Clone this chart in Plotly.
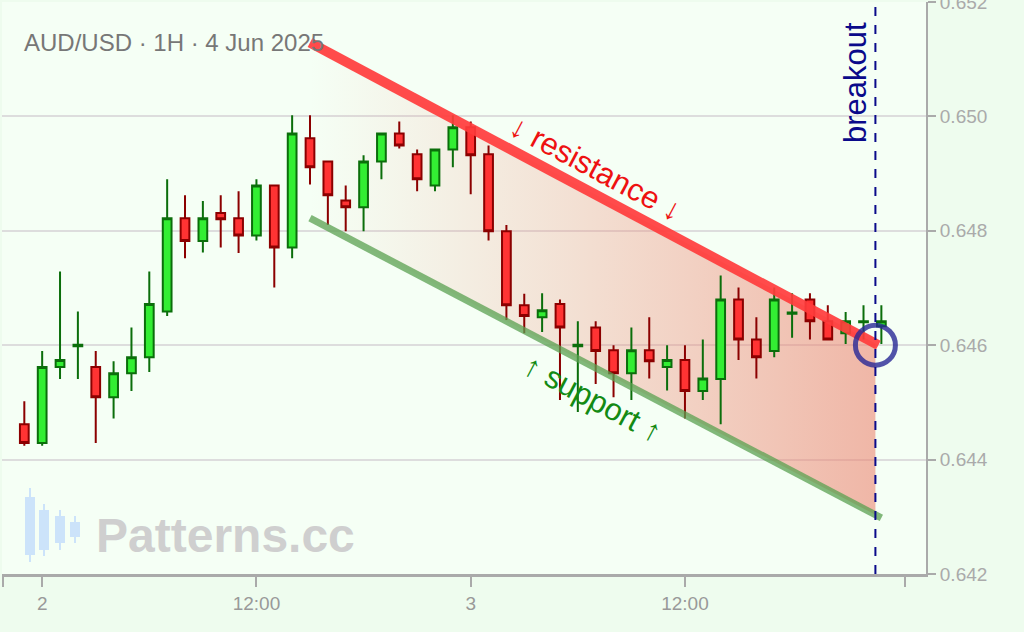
import plotly.graph_objects as go
import pandas as pd

# hourly AUD/USD candles, 1 Jun 23:00 -> 3 Jun 23:00
times = pd.date_range("2025-06-01 23:00", periods=49, freq="h")

opens = [0.64462, 0.64429, 0.64562, 0.64598, 0.64562, 0.64509, 0.64551, 0.64579, 0.64659, 0.64822,
         0.64782, 0.64831, 0.64822, 0.64792, 0.64879, 0.64771, 0.64962, 0.64921, 0.64853, 0.64841,
         0.64921, 0.64970, 0.64934, 0.64879, 0.64942, 0.64981, 0.64934, 0.64799, 0.64670, 0.64649,
         0.64672, 0.64598, 0.64631, 0.64591, 0.64551, 0.64591, 0.64562, 0.64574, 0.64520, 0.64541,
         0.64680, 0.64610, 0.64590, 0.64655, 0.64680, 0.64642, 0.64621, 0.64640, 0.64633]
highs = [0.64502, 0.64590, 0.64729, 0.64659, 0.64590, 0.64572, 0.64631, 0.64729, 0.64890, 0.64862,
         0.64852, 0.64862, 0.64869, 0.64890, 0.64880, 0.65002, 0.65002, 0.64921, 0.64879, 0.64932,
         0.64972, 0.64991, 0.64942, 0.64944, 0.65002, 0.64991, 0.64949, 0.64810, 0.64690, 0.64691,
         0.64680, 0.64642, 0.64642, 0.64600, 0.64631, 0.64649, 0.64600, 0.64600, 0.64610, 0.64722,
         0.64701, 0.64649, 0.64701, 0.64691, 0.64691, 0.64670, 0.64658, 0.64670, 0.64670]
lows = [0.64424, 0.64424, 0.64541, 0.64541, 0.64429, 0.64472, 0.64520, 0.64553, 0.64651, 0.64752,
        0.64762, 0.64771, 0.64761, 0.64783, 0.64701, 0.64752, 0.64881, 0.64810, 0.64799, 0.64799,
        0.64890, 0.64944, 0.64869, 0.64869, 0.64911, 0.64864, 0.64783, 0.64644, 0.64621, 0.64623,
        0.64504, 0.64483, 0.64532, 0.64509, 0.64504, 0.64542, 0.64521, 0.64472, 0.64504, 0.64462,
        0.64574, 0.64542, 0.64579, 0.64613, 0.64610, 0.64610, 0.64602, 0.64610, 0.64602]
closes = [0.64429, 0.64562, 0.64574, 0.64601, 0.64509, 0.64551, 0.64579, 0.64672, 0.64822, 0.64782,
          0.64822, 0.64820, 0.64792, 0.64879, 0.64771, 0.64970, 0.64911, 0.64862, 0.64841, 0.64921,
          0.64970, 0.64949, 0.64890, 0.64942, 0.64981, 0.64932, 0.64799, 0.64670, 0.64651, 0.64661,
          0.64631, 0.64601, 0.64590, 0.64551, 0.64591, 0.64572, 0.64574, 0.64520, 0.64542, 0.64680,
          0.64610, 0.64579, 0.64680, 0.64657, 0.64642, 0.64610, 0.64642, 0.64642, 0.64642]

# trend lines (start, end)
res_x = ["2025-06-02 15:00", "2025-06-03 22:50"]
res_y = [0.65129, 0.64600]
sup_x = ["2025-06-02 15:00", "2025-06-03 23:00"]
sup_y = [0.64822, 0.64298]

breakout_time = "2025-06-03 22:40"
breakout_price = 0.64600

tick_vals = ["2025-06-01 21:50", "2025-06-02 00:00", "2025-06-02 12:00", "2025-06-03 00:00",
             "2025-06-03 12:00", "2025-06-04 00:20"]
tick_text = ["", "2", "12:00", "3", "12:00", ""]
price_ticks = [0.642, 0.644, 0.646, 0.648, 0.650, 0.652]

x_range = ["2025-06-01 21:45", "2025-06-04 01:30"]
y_range = [0.642, 0.652]


def on_line(xs, ys, t):
    t0, t1 = pd.Timestamp(xs[0]), pd.Timestamp(xs[1])
    f = (pd.Timestamp(t) - t0) / (t1 - t0)
    return ys[0] + f * (ys[1] - ys[0])


# channel fill polygon, from pattern start to breakout
poly_x = [res_x[0], breakout_time, breakout_time, sup_x[0], res_x[0]]
poly_y = [res_y[0], on_line(res_x, res_y, breakout_time), on_line(sup_x, sup_y, breakout_time),
          sup_y[0], res_y[0]]

fig = go.Figure()

# fill sits on the base axes so the candles (overlay axes) draw above it
fig.add_trace(go.Scatter(
    x=poly_x, y=poly_y, mode="lines", line=dict(width=0), fill="toself",
    fillgradient=dict(type="horizontal",
                      colorscale=[[0, "rgba(240,150,130,0)"], [1, "rgba(236,130,110,0.58)"]]),
    hoverinfo="skip", showlegend=False))

fig.add_trace(go.Candlestick(
    x=times, open=opens, high=highs, low=lows, close=closes, xaxis="x2", yaxis="y2",
    increasing=dict(fillcolor="#33ee33", line=dict(color="#0b6e0b", width=2)),
    decreasing=dict(fillcolor="#ff3333", line=dict(color="#8b0000", width=2)),
    whiskerwidth=0, showlegend=False))

fig.add_trace(go.Scatter(x=res_x, y=res_y, mode="lines", xaxis="x2", yaxis="y2",
                         line=dict(color="rgba(255,60,60,0.92)", width=10),
                         hoverinfo="skip", showlegend=False))
fig.add_trace(go.Scatter(x=sup_x, y=sup_y, mode="lines", xaxis="x2", yaxis="y2",
                         line=dict(color="rgba(90,160,80,0.75)", width=7),
                         hoverinfo="skip", showlegend=False))

fig.add_trace(go.Scatter(x=[breakout_time], y=[breakout_price], mode="markers", xaxis="x2", yaxis="y2",
                         marker=dict(symbol="circle-open", size=40, color="rgba(40,40,150,0.8)",
                                     line=dict(color="rgba(40,40,150,0.8)", width=5)),
                         hoverinfo="skip", showlegend=False))

fig.add_shape(type="line", xref="x", yref="paper", x0=breakout_time, x1=breakout_time,
              y0=0, y1=1, line=dict(color="#0a0a8a", width=2, dash="dash"))

fig.add_annotation(x=breakout_time, y=0.65059, text="breakout", textangle=-90, showarrow=False,
                   xshift=-20, font=dict(size=31, color="#0a0a8a", family="Liberation Sans"))
fig.add_annotation(x="2025-06-03 07:00", y=0.64909, text="↓ resistance ↓", textangle=28,
                   showarrow=False, font=dict(size=31, color="#ee1111", family="Liberation Sans"))
fig.add_annotation(x="2025-06-03 06:50", y=0.64507, text="↑ support ↑", textangle=28,
                   showarrow=False, font=dict(size=31, color="#138a13", family="Liberation Sans"))

fig.add_annotation(xref="paper", yref="paper", x=0.022, y=0.93, xanchor="left", yanchor="middle",
                   text="AUD/USD · 1H · 4 Jun 2025", showarrow=False,
                   font=dict(size=24, color="#777777", family="Liberation Sans"))

# watermark
fig.add_annotation(xref="paper", yref="paper", x=0.1, y=0.068, xanchor="left", yanchor="middle",
                   text="<b>Patterns.cc</b>", showarrow=False,
                   font=dict(size=48, color="#cfcfcf", family="Liberation Sans"))
px = lambda v: (v - 2) / 924
py = lambda v: (574 - v) / 572
for cx, b0, b1, w0, w1 in [(30, 497, 555, 488, 562), (44, 510, 550, 504, 556),
                           (60, 516, 543, 510, 550), (75, 522, 537, 516, 543)]:
    fig.add_shape(type="line", xref="paper", yref="paper", x0=px(cx), x1=px(cx),
                  y0=py(w0), y1=py(w1), line=dict(color="#cce3fa", width=2))
    fig.add_shape(type="rect", xref="paper", yref="paper", x0=px(cx - 5), x1=px(cx + 5),
                  y0=py(b0), y1=py(b1), line=dict(width=0), fillcolor="#cce3fa")

fig.update_layout(
    width=1024, height=632,
    margin=dict(l=2, r=98, t=2, b=58),
    paper_bgcolor="#eefcee",
    plot_bgcolor="#f5fff5",
    font=dict(family="Liberation Sans"),
    xaxis=dict(range=x_range, rangeslider=dict(visible=False), automargin=False,
               tickvals=tick_vals, ticktext=tick_text, showgrid=False, zeroline=False,
               showline=True, linecolor="#aaaaaa", linewidth=3, ticks="outside", ticklen=10,
               tickcolor="#aaaaaa", tickwidth=2, tickfont=dict(size=19, color="#999999")),
    yaxis=dict(range=y_range, side="right", tickvals=price_ticks, ticklabeloverflow="allow",
               automargin=False,
               tickformat=".3f", showgrid=True, gridcolor="#dddddd", gridwidth=2, zeroline=False,
               showline=True, linecolor="#aaaaaa", linewidth=2, ticks="outside", ticklen=8,
               tickcolor="#aaaaaa", tickwidth=2, tickfont=dict(size=19, color="#aaaaaa")),
    xaxis2=dict(range=x_range, overlaying="x", visible=False, rangeslider=dict(visible=False)),
    yaxis2=dict(range=y_range, overlaying="y", visible=False),
)

fig.write_html("out.html", config={"displayModeBar": False},
               post_script="document.body.style.margin='0';")
